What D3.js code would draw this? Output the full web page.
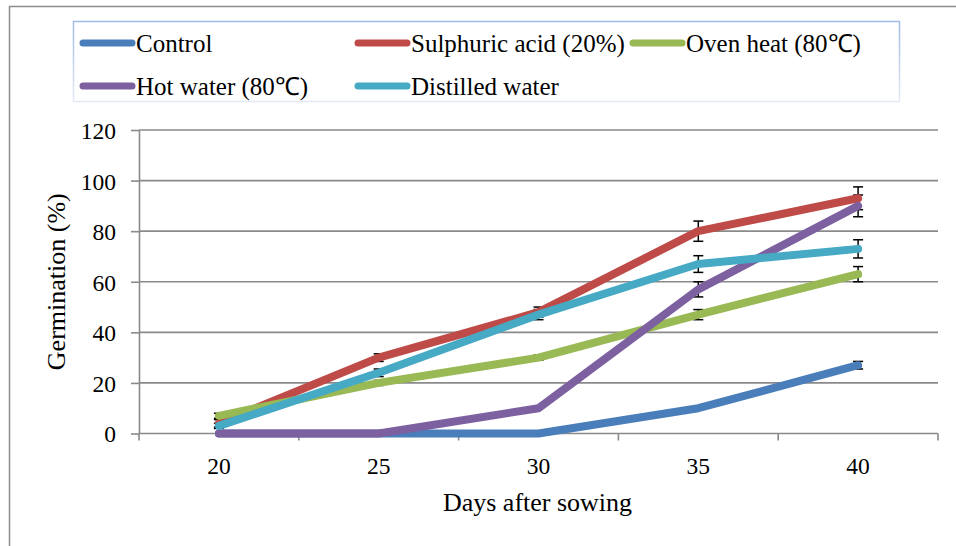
<!DOCTYPE html>
<html lang="en">
  <head>
    <meta charset="utf-8">
    <title>Germination after seed treatments</title>
    <script src="https://d3js.org/d3.v7.min.js"></script>
    <style type="text/css">
      body { margin: 0; background: #fff; }
      svg { width: 956px; height: 546px; display: block; }
      text { fill: #000; }
    </style>
  </head>
  <body>
    <svg></svg>
    <script type="text/javascript">

    // data
    const days = [20, 25, 30, 35, 40];
    const seriesNames = ["Control", "Sulphuric acid (20%)", "Oven heat (80℃)", "Hot water (80℃)", "Distilled water"];
    const control     = [0, 0, 0, 10, 27];
    const sulphuric   = [4, 30, 48, 80, 93];
    const ovenHeat    = [7, 20, 30, 47, 63];
    const hotWater    = [0, 0, 10, 57, 90];
    const distilled   = [3, 24, 47, 67, 73];
    // error bar half-widths
    const controlErr   = [0, 0, 0, 0, 1.5];
    const sulphuricErr = [1.5, 1.5, 2, 4, 4.5];
    const ovenHeatErr  = [1, 1, 1, 2, 3];
    const hotWaterErr  = [0, 0, 0, 3, 4.3];
    const distilledErr = [1, 1.5, 2, 3.3, 3.6];
    const yTicks = [0, 20, 40, 60, 80, 100, 120];

    const colors = ["#4A7EBB", "#BE4B48", "#98B954", "#7D60A0", "#46AAC5"];
    const values = [control, sulphuric, ovenHeat, hotWater, distilled];
    const errors = [controlErr, sulphuricErr, ovenHeatErr, hotWaterErr, distilledErr];

    const serif = "'Liberation Serif', 'Times New Roman', serif";

    const series = seriesNames.map((name, i) => ({
      name: name,
      color: colors[i],
      points: days.map((d, j) => ({day: d, value: values[i][j], err: errors[i][j]}))
    }));

    const plotLeft = 139, plotRight = 938, plotTop = 130, plotBottom = 433.5;

    const x = d3.scaleBand().domain(days).range([plotLeft, plotRight]);
    const y = d3.scaleLinear().domain([0, 120]).range([plotBottom, plotTop]);
    const cx = d => x(d) + x.bandwidth() / 2;

    const svg = d3.select("svg");

    // outer chart border (right and bottom edges fall outside the picture)
    svg.append("rect")
      .attr("x", 9.5).attr("y", 6.5)
      .attr("width", 960).attr("height", 560)
      .attr("fill", "none")
      .attr("stroke", "#8c8c8c")
      .attr("stroke-width", 1.5);

    // gridlines
    svg.append("g")
      .selectAll("line")
      .data(yTicks.filter(t => t > 0))
      .join("line")
      .attr("x1", plotLeft).attr("x2", plotRight)
      .attr("y1", d => y(d)).attr("y2", d => y(d))
      .attr("stroke", "#8a8a8a")
      .attr("stroke-width", 1.6);

    // y axis
    const yAxis = d3.axisLeft(y).tickValues(yTicks).tickSize(8).tickSizeOuter(0).tickPadding(15);
    const gy = svg.append("g")
      .attr("transform", "translate(" + plotLeft + ",0)")
      .call(yAxis)
      .attr("font-family", serif)
      .attr("font-size", 23.5);
    gy.select(".domain").attr("stroke", "#8a8a8a").attr("stroke-width", 1.6);
    gy.selectAll(".tick line").attr("stroke", "#8a8a8a").attr("stroke-width", 1.6);
    gy.selectAll(".tick text")
      .attr("dy", "0.36em")
      .style("font-family", serif)
      .style("font-size", "23.5px");

    // x axis, ticks sit on the band edges like the original
    const gx = svg.append("g")
      .attr("transform", "translate(0," + plotBottom + ")");
    gx.append("line")
      .attr("x1", plotLeft).attr("x2", plotRight)
      .attr("stroke", "#8a8a8a").attr("stroke-width", 1.6);
    const edges = days.map(d => x(d)).concat([plotRight]);
    gx.selectAll(".edge")
      .data(edges)
      .join("line")
      .attr("class", "edge")
      .attr("x1", d => d).attr("x2", d => d)
      .attr("y1", 0).attr("y2", 7)
      .attr("stroke", "#8a8a8a").attr("stroke-width", 1.6);
    gx.selectAll(".xlabel")
      .data(days)
      .join("text")
      .attr("class", "xlabel")
      .attr("x", d => cx(d))
      .attr("y", 40)
      .attr("text-anchor", "middle")
      .style("font-family", serif)
      .style("font-size", "23.5px")
      .text(d => d);

    // axis titles
    svg.append("text")
      .attr("x", (plotLeft + plotRight) / 2 - 1)
      .attr("y", 511)
      .attr("text-anchor", "middle")
      .style("font-family", serif)
      .style("font-size", "26px")
      .text("Days after sowing");

    svg.append("text")
      .attr("transform", "translate(65," + (plotTop + plotBottom) / 2 + ") rotate(-90)")
      .attr("text-anchor", "middle")
      .style("font-family", serif)
      .style("font-size", "26px")
      .text("Germination (%)");

    // error bars go under the lines
    const errG = svg.append("g");
    series.forEach(s => {
      const pts = s.points.filter(p => p.err > 0);
      const g = errG.append("g");
      g.selectAll(".stem").data(pts).join("line")
        .attr("x1", p => cx(p.day)).attr("x2", p => cx(p.day))
        .attr("y1", p => y(p.value + p.err)).attr("y2", p => y(p.value - p.err))
        .attr("stroke", "#000").attr("stroke-width", 1.5);
      g.selectAll(".capTop").data(pts).join("line")
        .attr("x1", p => cx(p.day) - 5).attr("x2", p => cx(p.day) + 5)
        .attr("y1", p => y(p.value + p.err)).attr("y2", p => y(p.value + p.err))
        .attr("stroke", "#000").attr("stroke-width", 1.5);
      g.selectAll(".capBot").data(pts).join("line")
        .attr("x1", p => cx(p.day) - 5).attr("x2", p => cx(p.day) + 5)
        .attr("y1", p => y(p.value - p.err)).attr("y2", p => y(p.value - p.err))
        .attr("stroke", "#000").attr("stroke-width", 1.5);
    });

    // lines
    const line = d3.line().x(p => cx(p.day)).y(p => y(p.value));
    svg.append("g")
      .selectAll("path")
      .data(series)
      .join("path")
      .attr("d", s => line(s.points))
      .attr("fill", "none")
      .attr("stroke", s => s.color)
      .attr("stroke-width", 8)
      .attr("stroke-linejoin", "round")
      .attr("stroke-linecap", "round");

    // legend
    const defs = svg.append("defs");
    const grad = defs.append("linearGradient")
      .attr("id", "legendEdge")
      .attr("x1", 0).attr("y1", 0).attr("x2", 0).attr("y2", 1);
    grad.append("stop").attr("offset", "0%").attr("stop-color", "#9fbbe6");
    grad.append("stop").attr("offset", "100%").attr("stop-color", "#e3eaf6");

    svg.append("rect")
      .attr("x", 73.5).attr("y", 21.5)
      .attr("width", 826).attr("height", 80)
      .attr("fill", "#fff")
      .attr("stroke", "url(#legendEdge)")
      .attr("stroke-width", 1.5);

    const colX = [80, 355, 630];
    const rowY = [43, 86];
    const lg = svg.append("g")
      .selectAll("g")
      .data(series)
      .join("g")
      .attr("transform", (s, i) => "translate(" + colX[i % 3] + "," + rowY[Math.floor(i / 3)] + ")");
    lg.append("line")
      .attr("x1", 3).attr("x2", 52)
      .attr("stroke", s => s.color)
      .attr("stroke-width", 7)
      .attr("stroke-linecap", "round");
    lg.append("text")
      .attr("x", 56)
      .attr("y", 9)
      .style("font-family", serif)
      .style("font-size", "25px")
      .text(s => s.name);

    </script>
  </body>
</html>
